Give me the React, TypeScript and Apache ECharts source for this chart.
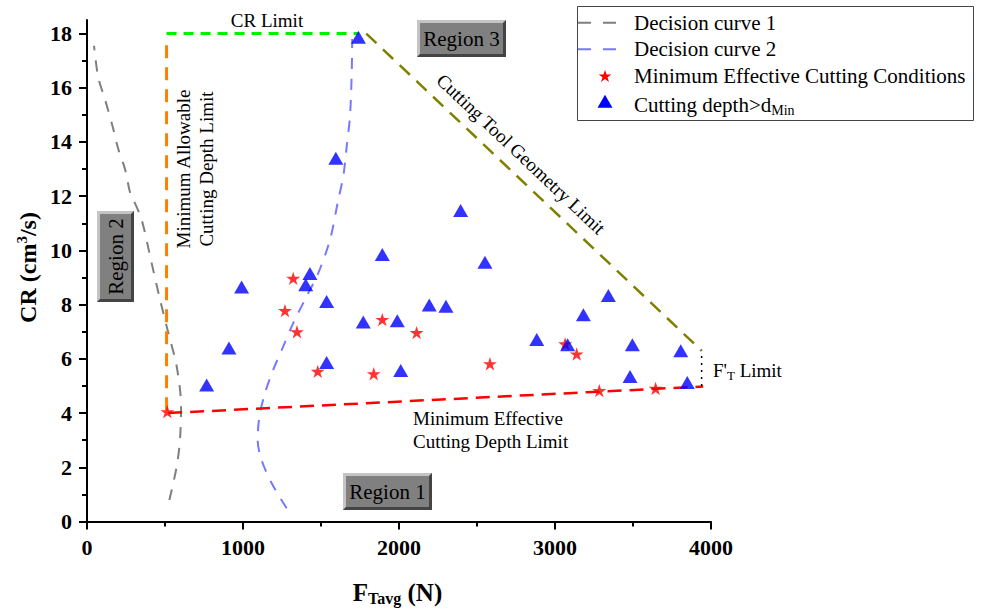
import React, { useEffect, useRef } from "react";
import * as echarts from "echarts";

const FONT = '"Liberation Serif", "Times New Roman", serif';

// X axis: F_Tavg (N), Y axis: CR (cm^3/s)
const yMajorTicks = [0, 2, 4, 6, 8, 10, 12, 14, 16, 18];
const yMinorTicks = [1, 3, 5, 7, 9, 11, 13, 15, 17];

// Blue triangles: Cutting depth > dMin
const triangles: [number, number][] = [
  [767, 5.04], [910, 6.4], [991, 8.65], [1402, 8.73], [1429, 9.15],
  [1536, 8.12], [1536, 5.87], [1595, 13.4], [1740, 17.86], [1771, 7.36],
  [1893, 9.85], [1989, 7.41], [2011, 5.57], [2194, 7.99], [2301, 7.94],
  [2395, 11.47], [2551, 9.56], [2883, 6.71], [3081, 6.52], [3182, 7.63],
  [3342, 8.34], [3481, 5.35], [3496, 6.52], [3806, 6.3], [3848, 5.13],
];

// Red stars: Minimum Effective Cutting Conditions
const stars: [number, number][] = [
  [515, 4.05], [1269, 7.78], [1322, 8.97], [1346, 7.0], [1479, 5.54],
  [1838, 5.45], [1893, 7.45], [2113, 6.97], [2583, 5.82], [3065, 6.55],
  [3139, 6.18], [3284, 4.83], [3645, 4.91],
];

// Decision curve 1 (gray)
const curve1: [number, number][] = [
  [528, 0.79], [575, 2.03], [596, 3.01], [603, 4.24], [575, 5.72],
  [521, 6.96], [468, 8.19], [414, 9.54], [350, 11.14], [297, 11.88],
  [276, 12.14], [244, 12.99], [201, 13.73], [169, 14.47], [115, 15.58],
  [72, 16.38], [45, 17.55],
];

// Decision curve 2 (light blue)
const curve2: [number, number][] = [
  [1280, 0.49], [1184, 1.41], [1119, 2.27], [1094, 3.01], [1105, 3.87],
  [1141, 4.74], [1194, 5.6], [1258, 6.46], [1322, 7.32], [1408, 8.31],
  [1483, 9.17], [1558, 10.4], [1611, 11.88], [1643, 12.74], [1665, 13.85],
  [1686, 14.96], [1697, 16.56], [1700, 17.8],
];

// Limit lines
const minAllowableDepthLimit: [number, number][] = [[510, 4.1], [510, 17.6]];
const crLimit: [number, number][] = [[510, 18], [1741, 18]];
const toolGeometryLimit: [number, number][] = [[1790, 18], [3940, 6.3]];
const minEffectiveDepthLimit: [number, number][] = [[520, 4.0], [3950, 4.98]];
const ftLimit: [number, number][] = [[3940, 5.0], [3940, 6.3]];

const STAR_D =
  "M0 -10 L2.245 -3.09 L9.511 -3.09 L3.633 1.18 L5.878 8.09 L0 3.82 L-5.878 8.09 L-3.633 1.18 L-9.511 -3.09 L-2.245 -3.09 Z";

let registered = false;
function registerShapes() {
  if (registered) return;
  registered = true;
  echarts.graphic.registerShape("legendStar", echarts.graphic.extendPath(STAR_D, {}) as any);
}

function regionBox(x: number, y: number, w: number, h: number, label: string, vertical: boolean) {
  const b = 3;
  return {
    type: "group",
    z: 10,
    children: [
      { type: "rect", shape: { x, y, width: w, height: h }, style: { fill: "#808080" } },
      {
        type: "polygon",
        shape: { points: [[x, y], [x + w, y], [x + w - b, y + b], [x + b, y + b], [x + b, y + h - b], [x, y + h]] },
        style: { fill: "#c4c4c4" },
      },
      {
        type: "polygon",
        shape: { points: [[x + w, y], [x + w, y + h], [x, y + h], [x + b, y + h - b], [x + w - b, y + h - b], [x + w - b, y + b]] },
        style: { fill: "#444444" },
      },
      {
        type: "text",
        x: x + w / 2,
        y: y + h / 2,
        rotation: vertical ? Math.PI / 2 : 0,
        style: {
          text: label,
          fontFamily: FONT,
          fontSize: 21,
          fill: "#000",
          align: "center",
          verticalAlign: "middle",
        },
      },
    ],
  };
}

function lineSeries(data: [number, number][], color: string, width: number, dash: number[] | string, smooth: number | boolean = false) {
  return {
    type: "line",
    data,
    symbol: "none",
    smooth,
    silent: true,
    z: 2,
    lineStyle: { color, width, type: dash },
  };
}

export default function App() {
  const ref = useRef<HTMLDivElement>(null);

  useEffect(() => {
    if (!ref.current) return;
    registerShapes();
    const chart = echarts.init(ref.current, undefined, { renderer: "svg" });

    const legendRows = [22.7, 49.3, 76, 101.7];
    const legendTextX = 634;

    const option: any = {
      animation: false,
      grid: { left: 87, right: 272, top: 20, bottom: 88.5 },
      xAxis: {
        type: "value",
        min: 0,
        max: 4000,
        interval: 1000,
        axisLine: { show: true, onZero: false, lineStyle: { color: "#000", width: 2 } },
        axisTick: { show: true, inside: false, length: 8, lineStyle: { color: "#000", width: 2 } },
        minorTick: { show: true, splitNumber: 2, length: 5, lineStyle: { color: "#000", width: 2 } },
        splitLine: { show: false },
        minorSplitLine: { show: false },
        axisLabel: {
          fontFamily: FONT,
          fontWeight: "bold",
          fontSize: 22,
          color: "#000",
          margin: 15,
          formatter: (v: number) => String(v),
        },
      },
      yAxis: [
        {
          type: "value",
          min: 0,
          max: 18.5,
          axisLine: { show: true, onZero: false, lineStyle: { color: "#000", width: 2 } },
          axisTick: { show: true, inside: false, length: 8, customValues: yMajorTicks, lineStyle: { color: "#000", width: 2 } },
          splitLine: { show: false },
          axisLabel: {
            fontFamily: FONT,
            fontWeight: "bold",
            fontSize: 22,
            color: "#000",
            margin: 15,
            customValues: yMajorTicks,
            formatter: (v: number) => String(v),
          },
        },
        {
          type: "value",
          min: 0,
          max: 18.5,
          position: "left",
          offset: 0,
          axisLine: { show: false },
          axisTick: { show: true, inside: false, length: 5, customValues: yMinorTicks, lineStyle: { color: "#000", width: 2 } },
          splitLine: { show: false },
          axisLabel: { show: false },
        },
      ],
      series: [
        lineSeries(curve1, "#7f7f7f", 2, [11, 10], 0.3),
        lineSeries(curve2, "#7878ff", 2, [11, 10], 0.3),
        lineSeries(minAllowableDepthLimit, "#ff8000", 3, [13, 9]),
        lineSeries(crLimit, "#00ee00", 3, [10, 7]),
        lineSeries(toolGeometryLimit, "#808000", 2.5, [14, 9]),
        lineSeries(minEffectiveDepthLimit, "#ff0000", 2.5, [14, 8]),
        lineSeries(ftLimit, "#000000", 1.5, [2, 5]),
        {
          name: "Minimum Effective Cutting Conditions",
          type: "scatter",
          data: stars,
          symbol: "path://" + STAR_D,
          symbolSize: 14,
          symbolKeepAspect: true,
          itemStyle: { color: "#ff0000" },
          z: 3,
        },
        {
          name: "Cutting depth>dMin",
          type: "scatter",
          data: triangles,
          symbol: "triangle",
          symbolSize: [15, 13],
          itemStyle: { color: "#0000ff" },
          z: 4,
        },
      ],
      graphic: {
        elements: [
          // Legend box
          {
            type: "rect",
            shape: { x: 577.5, y: 6.5, width: 396, height: 114 },
            style: { fill: "#fff", stroke: "#444", lineWidth: 1 },
            z: 20,
          },
          {
            type: "line",
            shape: { x1: 578, y1: legendRows[0], x2: 618, y2: legendRows[0] },
            style: { stroke: "#7f7f7f", lineWidth: 2, lineDash: [13, 12] },
            z: 21,
          },
          {
            type: "line",
            shape: { x1: 578, y1: legendRows[1], x2: 618, y2: legendRows[1] },
            style: { stroke: "#7878ff", lineWidth: 2, lineDash: [13, 12] },
            z: 21,
          },
          {
            type: "legendStar",
            x: 605,
            y: legendRows[2] + 0.5,
            scaleX: 0.68,
            scaleY: 0.68,
            style: { fill: "#ff0000" },
            z: 21,
          },
          {
            type: "polygon",
            shape: { points: [[605, legendRows[3] - 7], [612.5, legendRows[3] + 6], [597.5, legendRows[3] + 6]] },
            style: { fill: "#0000ff" },
            z: 21,
          },
          ...["Decision curve 1", "Decision curve 2", "Minimum Effective Cutting Conditions"].map((t, i) => ({
            type: "text",
            x: legendTextX,
            y: legendRows[i],
            z: 21,
            style: { text: t, fontFamily: FONT, fontSize: 21, fill: "#000", align: "left", verticalAlign: "middle" },
          })),
          {
            type: "text",
            x: legendTextX,
            y: legendRows[3] + 3,
            z: 21,
            style: {
              text: "{a|Cutting depth>d}{b|Min}",
              align: "left",
              verticalAlign: "middle",
              rich: {
                a: { fontFamily: FONT, fontSize: 21, fill: "#000", color: "#000" },
                b: { fontFamily: FONT, fontSize: 14, fill: "#000", color: "#000", padding: [12, 0, 0, 0] },
              },
            },
          },
          // Axis titles
          {
            type: "text",
            x: 397.5,
            y: 592,
            z: 21,
            style: {
              text: "{a|F}{b|Tavg}{a| (N)}",
              align: "center",
              verticalAlign: "middle",
              rich: {
                a: { fontFamily: FONT, fontSize: 25, fontWeight: "bold", fill: "#000", color: "#000" },
                b: { fontFamily: FONT, fontSize: 16, fontWeight: "bold", fill: "#000", color: "#000", padding: [12, 0, 0, 0] },
              },
            },
          },
          {
            type: "text",
            x: 28,
            y: 267.5,
            rotation: Math.PI / 2,
            z: 21,
            style: {
              text: "{a|CR (cm}{b|3}{a|/s)}",
              align: "center",
              verticalAlign: "middle",
              rich: {
                a: { fontFamily: FONT, fontSize: 24, fontWeight: "bold", fill: "#000", color: "#000" },
                b: { fontFamily: FONT, fontSize: 15, fontWeight: "bold", fill: "#000", color: "#000", padding: [0, 0, 12, 0] },
              },
            },
          },
          // Annotations
          {
            type: "text",
            x: 267,
            y: 20,
            z: 21,
            style: { text: "CR Limit", fontFamily: FONT, fontSize: 19, fill: "#000", align: "center", verticalAlign: "middle" },
          },
          {
            type: "text",
            x: 195,
            y: 169,
            rotation: Math.PI / 2,
            z: 21,
            style: {
              text: "Minimum Allowable\nCutting Depth Limit",
              fontFamily: FONT,
              fontSize: 19,
              lineHeight: 22.5,
              fill: "#000",
              align: "center",
              verticalAlign: "middle",
            },
          },
          {
            type: "text",
            x: 521,
            y: 154,
            rotation: -0.757,
            z: 21,
            style: {
              text: "Cutting Tool Geometry Limit",
              fontFamily: FONT,
              fontSize: 19,
              fill: "#000",
              align: "center",
              verticalAlign: "middle",
            },
          },
          {
            type: "text",
            x: 413,
            y: 429.5,
            z: 21,
            style: {
              text: "Minimum Effective\nCutting Depth Limit",
              fontFamily: FONT,
              fontSize: 19,
              lineHeight: 23,
              fill: "#000",
              align: "left",
              verticalAlign: "middle",
            },
          },
          {
            type: "text",
            x: 713,
            y: 370,
            z: 21,
            style: {
              text: "{a|F'}{b|T}{a| Limit}",
              align: "left",
              verticalAlign: "middle",
              rich: {
                a: { fontFamily: FONT, fontSize: 19, fill: "#000", color: "#000" },
                b: { fontFamily: FONT, fontSize: 13, fill: "#000", color: "#000", padding: [10, 0, 0, 0] },
              },
            },
          },
          regionBox(417, 20, 89, 37, "Region 3", false),
          regionBox(343, 473, 89, 37, "Region 1", false),
          regionBox(97, 211, 37, 91, "Region 2", true),
        ],
      },
    };

    chart.setOption(option);
    return () => chart.dispose();
  }, []);

  return (
    <div
      ref={ref}
      style={{ position: "fixed", left: 0, top: 0, width: 983, height: 610, background: "#fff" }}
    />
  );
}
